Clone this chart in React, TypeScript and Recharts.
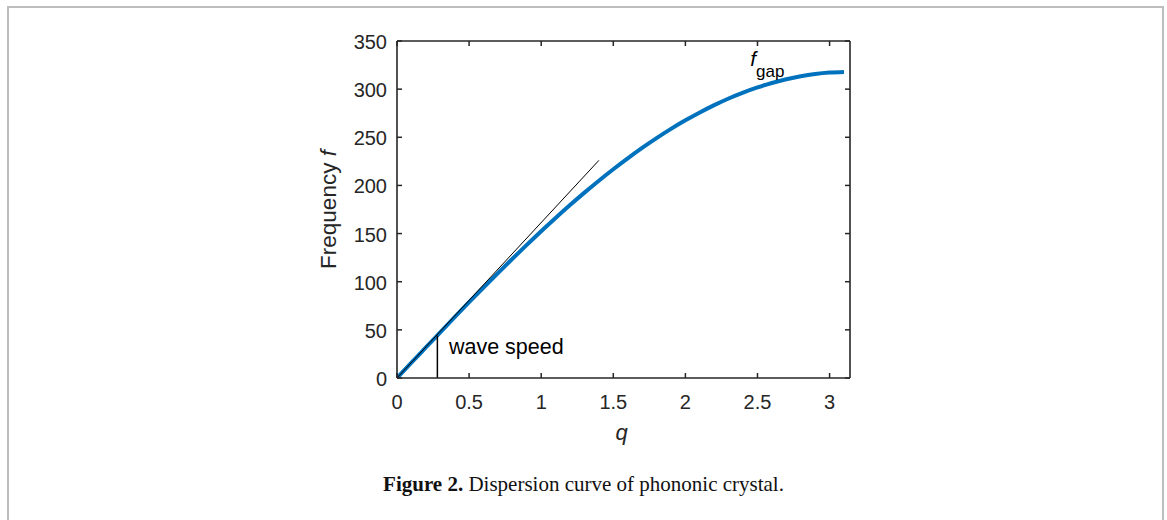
import { LineChart, Line, XAxis, YAxis, ReferenceDot } from 'recharts';

// dispersion curve
const Q = [0, 0.1, 0.2, 0.3, 0.4, 0.5, 0.6, 0.7, 0.8, 0.9, 1.0, 1.1, 1.2, 1.3, 1.4, 1.5, 1.6, 1.7, 1.8, 1.9, 2.0, 2.1, 2.2, 2.3, 2.4, 2.5, 2.6, 2.7, 2.8, 2.9, 3.0, 3.1];
const FREQ = [0, 15.9, 31.7, 47.5, 63.2, 78.7, 94.0, 109.0, 123.8, 138.3, 152.5, 166.2, 179.6, 192.5, 204.9, 216.8, 228.1, 238.9, 249.1, 258.7, 267.6, 275.8, 283.4, 290.3, 296.4, 301.8, 306.4, 310.3, 313.4, 315.7, 317.2, 317.9];

// tangent at the origin (wave speed)
const TANGENT_Q = [0, 1.4];
const TANGENT_F = [0, 226];

// small vertical marker under the tangent
const MARKER_Q = [0.28, 0.28];
const MARKER_F = [0, 44];

const X_TICKS = [0, 0.5, 1, 1.5, 2, 2.5, 3];
const Y_TICKS = [0, 50, 100, 150, 200, 250, 300, 350];
const X_DOMAIN = [0, 3.1416];
const Y_DOMAIN = [0, 350];

const curve = Q.map((q, i) => ({ q, f: FREQ[i] }));
const tangent = TANGENT_Q.map((q, i) => ({ q, f: TANGENT_F[i] }));
const marker = MARKER_Q.map((q, i) => ({ q, f: MARKER_F[i] }));

const INK = '#262626';
const FONT = '"Liberation Sans", Arial, Helvetica, sans-serif';

const BottomTick = ({ x, y, payload }: any) => (
    <g>
        <line x1={x} x2={x} y1={y} y2={y - 5} stroke={INK} strokeWidth={1.5} />
        <text x={x} y={y + 31} textAnchor="middle" fontSize={20} fill={INK} fontFamily={FONT}>
            {String(payload.value)}
        </text>
    </g>
);

const LeftTick = ({ x, y, payload }: any) => (
    <g>
        <line x1={x} x2={x + 5} y1={y} y2={y} stroke={INK} strokeWidth={1.5} />
        <text x={x - 10} y={y + 8} textAnchor="end" fontSize={20} fill={INK} fontFamily={FONT}>
            {String(payload.value)}
        </text>
    </g>
);

const TopTick = ({ x, y }: any) => (
    <line x1={x} x2={x} y1={y} y2={y + 5} stroke={INK} strokeWidth={1.5} />
);

const RightTick = ({ x, y }: any) => (
    <line x1={x} x2={x - 5} y1={y} y2={y} stroke={INK} strokeWidth={1.5} />
);

export default function App() {
    return (
        <div style={{ position: 'fixed', left: 0, top: 0, width: 1167, height: 520, overflow: 'hidden', background: '#fff' }}>
            {/* page frame */}
            <div
                style={{
                    position: 'absolute',
                    left: 7,
                    top: 6,
                    width: 1157,
                    height: 540,
                    border: '2px solid #bdbdbd',
                    boxSizing: 'border-box',
                }}
            />
            <div style={{ position: 'absolute', left: 0, top: 0 }}>
                <LineChart width={1167} height={520} margin={{ top: 40, right: 316, bottom: 82, left: 337 }}>
                    <XAxis
                        xAxisId="b"
                        dataKey="q"
                        type="number"
                        domain={X_DOMAIN}
                        ticks={X_TICKS}
                        height={60}
                        tickSize={0}
                        tickMargin={0}
                        tick={<BottomTick />}
                        axisLine={{ stroke: INK, strokeWidth: 1.6 }}
                        allowDataOverflow
                        label={(p: any) => (
                            <text
                                x={p.viewBox.x + p.viewBox.width / 2 - 2}
                                y={p.viewBox.y + 62}
                                textAnchor="middle"
                                fontSize={22}
                                fontStyle="italic"
                                fill={INK}
                                fontFamily={FONT}
                            >
                                q
                            </text>
                        )}
                    />
                    <XAxis
                        xAxisId="t"
                        orientation="top"
                        dataKey="q"
                        type="number"
                        domain={X_DOMAIN}
                        ticks={X_TICKS}
                        height={1}
                        tickSize={0}
                        tickMargin={0}
                        tick={<TopTick />}
                        axisLine={{ stroke: INK, strokeWidth: 1.6 }}
                        allowDataOverflow
                    />
                    <YAxis
                        yAxisId="l"
                        type="number"
                        domain={Y_DOMAIN}
                        ticks={Y_TICKS}
                        width={60}
                        tickSize={0}
                        tickMargin={0}
                        tick={<LeftTick />}
                        axisLine={{ stroke: INK, strokeWidth: 1.6 }}
                        allowDataOverflow
                        label={(p: any) => (
                            <text
                                transform={`translate(${p.viewBox.x - 1}, ${p.viewBox.y + p.viewBox.height / 2}) rotate(-90)`}
                                textAnchor="middle"
                                fontSize={22.5}
                                fill={INK}
                                fontFamily={FONT}
                            >
                                Frequency <tspan fontStyle="italic">f</tspan>
                            </text>
                        )}
                    />
                    <YAxis
                        yAxisId="r"
                        orientation="right"
                        type="number"
                        domain={Y_DOMAIN}
                        ticks={Y_TICKS}
                        width={1}
                        tickSize={0}
                        tickMargin={0}
                        tick={<RightTick />}
                        axisLine={{ stroke: INK, strokeWidth: 1.6 }}
                        allowDataOverflow
                    />
                    <Line
                        xAxisId="b"
                        yAxisId="l"
                        data={curve}
                        dataKey="f"
                        type="monotone"
                        stroke="#0072BD"
                        strokeWidth={4}
                        dot={false}
                        isAnimationActive={false}
                    />
                    <Line
                        xAxisId="b"
                        yAxisId="l"
                        data={tangent}
                        dataKey="f"
                        type="linear"
                        stroke="#000"
                        strokeWidth={1}
                        dot={false}
                        isAnimationActive={false}
                    />
                    <Line
                        xAxisId="b"
                        yAxisId="l"
                        data={marker}
                        dataKey="f"
                        type="linear"
                        stroke="#000"
                        strokeWidth={1.5}
                        dot={false}
                        isAnimationActive={false}
                    />
                    <ReferenceDot
                        xAxisId="b"
                        yAxisId="l"
                        x={0.36}
                        y={25}
                        r={0}
                        fill="none"
                        stroke="none"
                        label={(p: any) => (
                            <text x={p.viewBox.x} y={p.viewBox.y} fontSize={21.5} fill="#000" fontFamily={FONT}>
                                wave speed
                            </text>
                        )}
                    />
                    <ReferenceDot
                        xAxisId="b"
                        yAxisId="l"
                        x={2.45}
                        y={324}
                        r={0}
                        fill="none"
                        stroke="none"
                        label={(p: any) => (
                            <text x={p.viewBox.x} y={p.viewBox.y} fontSize={21} fill="#000" fontFamily={FONT}>
                                <tspan fontStyle="italic">f</tspan>
                                <tspan dy={11} fontSize={17}>gap</tspan>
                            </text>
                        )}
                    />
                </LineChart>
            </div>
            <div
                style={{
                    position: 'absolute',
                    left: 0,
                    top: 472,
                    width: 1167,
                    textAlign: 'center',
                    fontFamily: '"Liberation Serif", "Times New Roman", serif',
                    fontSize: 21,
                    lineHeight: '24px',
                    color: '#111',
                }}
            >
                <b>Figure 2.</b> Dispersion curve of phononic crystal.
            </div>
        </div>
    );
}
